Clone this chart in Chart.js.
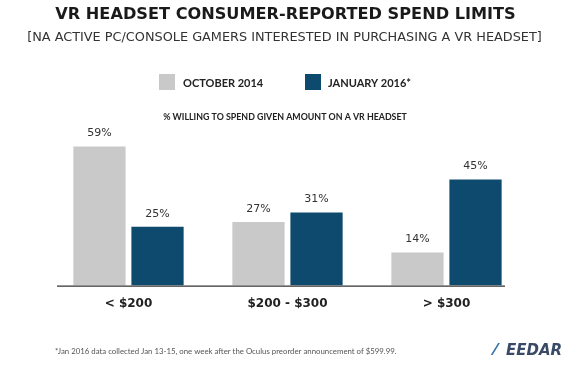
<!DOCTYPE html>
<html><head><meta charset="utf-8">
<script src="https://cdn.jsdelivr.net/npm/chart.js@4/dist/chart.umd.min.js"></script>
<style>html,body{margin:0;padding:0;background:#fff}#wrap{width:584px;height:366px}</style>
</head><body><div id="wrap"><canvas id="c" width="584" height="366"></canvas></div>
<script>
const categories = ['< $200', '$200 - $300', '> $300'];
const seriesNames = ['OCTOBER 2014', 'JANUARY 2016*'];
const oct2014 = [59, 27, 14];
const jan2016 = [25, 31, 45];
const titleText = 'VR HEADSET CONSUMER-REPORTED SPEND LIMITS';
const subtitleText = '[NA ACTIVE PC/CONSOLE GAMERS INTERESTED IN PURCHASING A VR HEADSET]';
const axisTitleText = '% WILLING TO SPEND GIVEN AMOUNT ON A VR HEADSET';
const footnoteText = '*Jan 2016 data collected Jan 13-15, one week after the Oculus preorder announcement of $599.99.';

const GRAY = '#c9c9c9', BLUE = '#0d4a6e', FAM = '"DejaVu Sans", sans-serif', FAM2 = 'Lato, sans-serif';

function fitText(ctx, text, cx, cy, targetW, weight, color, align, fam) {
  fam = fam || FAM;
  ctx.font = weight + ' 20px ' + fam;
  const w = ctx.measureText(text).width;
  const size = 20 * targetW / w;
  ctx.font = weight + ' ' + size.toFixed(2) + 'px ' + fam;
  ctx.fillStyle = color;
  ctx.textAlign = align || 'center';
  ctx.textBaseline = 'middle';
  ctx.fillText(text, cx, cy);
}

const decor = {
  id: 'decor',
  afterDraw(chart) {
    const ctx = chart.ctx, ca = chart.chartArea, y = chart.scales.y;
    ctx.save();
    fitText(ctx, titleText, 285.5, 15, 461, 'bold', '#1a1a1a');
    fitText(ctx, subtitleText, 284.5, 38, 515, 'normal', '#333');
    const items = [[159, 183], [305, 328]];
    chart.data.datasets.forEach((ds, i) => {
      ctx.fillStyle = ds.backgroundColor;
      ctx.fillRect(items[i][0], 74, 16, 16);
      ctx.font = 'bold 11px ' + FAM2; ctx.fillStyle = '#222';
      ctx.textAlign = 'left'; ctx.textBaseline = 'middle';
      ctx.fillText(ds.label, items[i][1], 83);
    });
    fitText(ctx, axisTitleText, 285, 117, 244, 'bold', '#222', 'center', FAM2);
    const by = y.getPixelForValue(0);
    ctx.strokeStyle = '#333'; ctx.lineWidth = 1.2;
    ctx.beginPath(); ctx.moveTo(ca.left + 8, by + 0.5); ctx.lineTo(ca.right - 21, by + 0.5); ctx.stroke();
    ctx.font = '11px ' + FAM; ctx.fillStyle = '#333'; ctx.textAlign = 'center'; ctx.textBaseline = 'middle';
    chart.data.datasets.forEach((ds, i) => {
      chart.getDatasetMeta(i).data.forEach((bar, j) => {
        ctx.fillText(ds.data[j] + '%', bar.x, bar.y - 13);
      });
    });
    fitText(ctx, footnoteText, 55, 351, 342, 'normal', '#555', 'left', FAM2);
    ctx.font = 'italic bold 15px ' + FAM; ctx.fillStyle = '#3a4a66'; ctx.textAlign = 'left';
    ctx.fillText('EEDAR', 506, 351);
    ctx.font = 'bold 16px ' + FAM; ctx.fillStyle = '#2f6fa8';
    ctx.fillText('⁄', 494, 351);
    ctx.restore();
  }
};

new Chart(document.getElementById('c'), {
  type: 'bar',
  data: {
    labels: categories,
    datasets: [
      { label: seriesNames[0], data: oct2014, backgroundColor: GRAY },
      { label: seriesNames[1], data: jan2016, backgroundColor: BLUE }
    ]
  },
  options: {
    responsive: false, animation: false,
    layout: { padding: { top: 130, left: 49, right: 58, bottom: 44 } },
    categoryPercentage: 0.73, barPercentage: 0.9,
    plugins: { legend: { display: false }, tooltip: { enabled: false } },
    scales: {
      x: { grid: { display: false, drawTicks: false }, border: { display: false },
           ticks: { padding: 11, color: '#222', font: { family: FAM, size: 12, weight: '600' } } },
      y: { display: false, min: 0, max: 66 }
    }
  },
  plugins: [decor]
});
</script></body></html>
